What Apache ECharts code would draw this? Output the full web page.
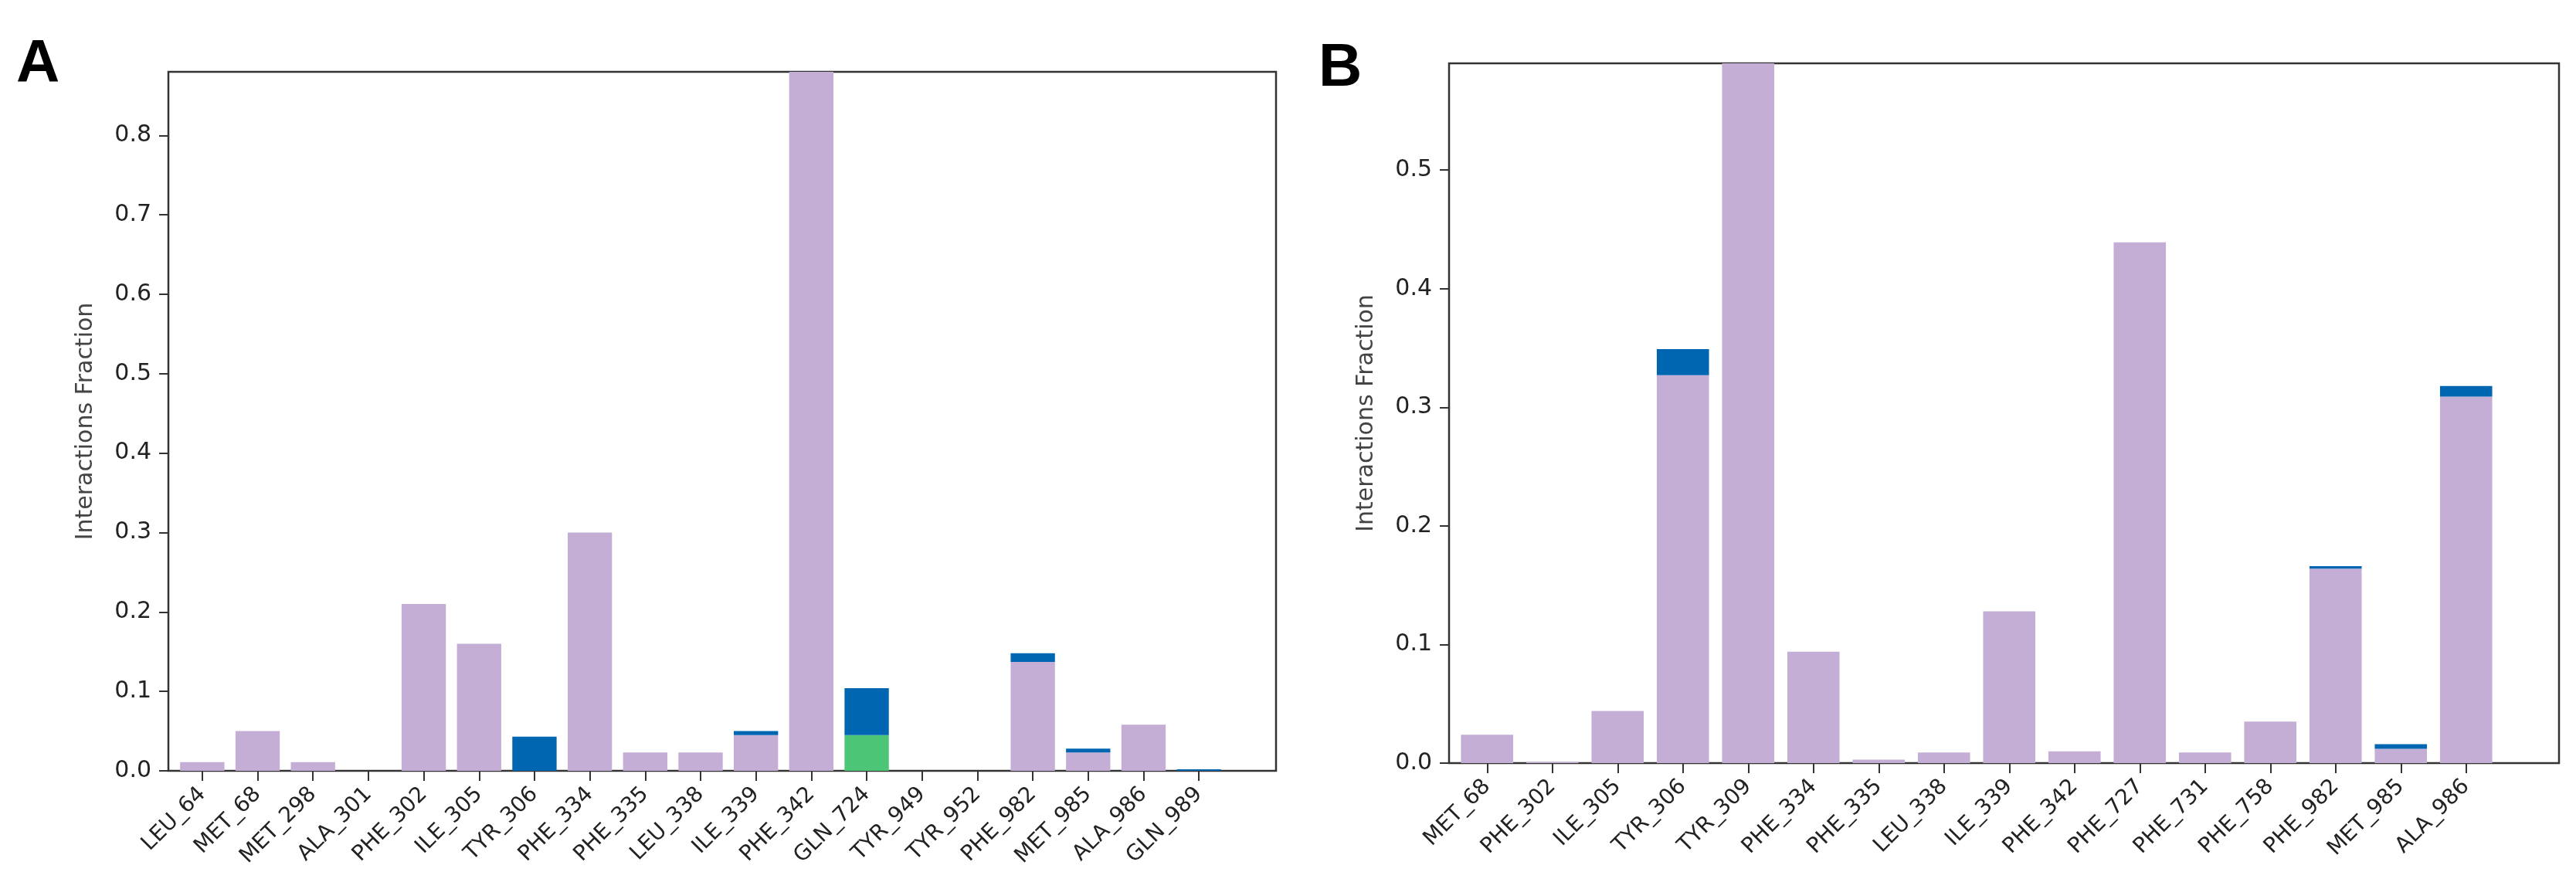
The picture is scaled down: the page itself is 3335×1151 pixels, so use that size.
<!DOCTYPE html>
<html>
<head>
<meta charset="utf-8">
<script src="https://cdn.jsdelivr.net/npm/echarts@6/dist/echarts.min.js"></script>
<style>
html,body{margin:0;padding:0;background:#fff;}
#chart{width:3335px;height:1151px;}
</style>
</head>
<body>
<div id="chart"></div>
<script>
// ---------- Panel A data ----------
const catsA = ['LEU_64','MET_68','MET_298','ALA_301','PHE_302','ILE_305','TYR_306','PHE_334','PHE_335','LEU_338','ILE_339','PHE_342','GLN_724','TYR_949','TYR_952','PHE_982','MET_985','ALA_986','GLN_989'];
const hbondA  = [0, 0, 0, 0, 0, 0, 0, 0, 0, 0, 0, 0, 0.045, 0, 0, 0, 0, 0, 0];
const hydroA  = [0.011, 0.050, 0.011, 0, 0.210, 0.160, 0, 0.300, 0.023, 0.023, 0.045, 0.880, 0, 0, 0, 0.137, 0.023, 0.058, 0];
const waterA  = [0, 0, 0, 0, 0, 0, 0.043, 0, 0, 0, 0.005, 0, 0.059, 0, 0, 0.011, 0.005, 0, 0.002];
const yMaxA = 0.88;
const yTicksA = [0, 0.1, 0.2, 0.3, 0.4, 0.5, 0.6, 0.7, 0.8];

// ---------- Panel B data ----------
const catsB = ['MET_68','PHE_302','ILE_305','TYR_306','TYR_309','PHE_334','PHE_335','LEU_338','ILE_339','PHE_342','PHE_727','PHE_731','PHE_758','PHE_982','MET_985','ALA_986'];
const hydroB  = [0.024, 0.001, 0.044, 0.327, 0.590, 0.094, 0.003, 0.009, 0.128, 0.010, 0.439, 0.009, 0.035, 0.164, 0.012, 0.309];
const waterB  = [0, 0, 0, 0.022, 0, 0, 0, 0, 0, 0, 0, 0, 0, 0.002, 0.004, 0.009];
const yMaxB = 0.59;
const yTicksB = [0, 0.1, 0.2, 0.3, 0.4, 0.5];

const yTitle = 'Interactions Fraction';

const C_HB = '#4CC676', C_HY = '#C4AED6', C_WB = '#0066B2';
const FONT = 'DejaVu Sans';

function frameY(gi, max, ticks) {
  return {
    gridIndex: gi, type: 'value', min: 0, max: max,
    name: yTitle, nameLocation: 'middle', nameGap: 92, nameRotate: 90,
    nameTextStyle: {fontFamily: FONT, fontSize: 30, color: '#444'},
    axisLine: {show: false},
    splitLine: {show: false},
    axisTick: {show: true, inside: false, length: 12, lineStyle: {color: '#333', width: 2}, customValues: ticks},
    axisLabel: {show: true, margin: 22, fontFamily: FONT, fontSize: 30, color: '#222',
      customValues: ticks, formatter: v => v.toFixed(1)}
  };
}
function dataX(gi, cats) {
  return {
    gridIndex: gi, type: 'category', data: cats,
    axisLine: {show: false},
    axisTick: {show: true, alignWithLabel: true, length: 13, lineStyle: {color: '#333', width: 2}},
    axisLabel: {rotate: 45, interval: 0, margin: 26, fontFamily: FONT, fontSize: 28, color: '#222'},
    splitLine: {show: false}
  };
}
function hiddenY(gi, max) {
  return {gridIndex: gi, type: 'value', min: 0, max: max, show: false, splitLine: {show: false}};
}
function bar(name, data, color, xi, yi, stack) {
  return {
    name: name, type: 'bar', data: data, stack: stack,
    xAxisIndex: xi, yAxisIndex: yi, barCategoryGap: '20%',
    itemStyle: {color: color}, emphasis: {disabled: true}, animation: false
  };
}

const chart = echarts.init(document.getElementById('chart'), null, {renderer: 'canvas'});
chart.setOption({
  animation: false,
  backgroundColor: '#fff',
  title: [
    {text: 'A', left: 16, top: 40, textStyle: {fontFamily: 'Liberation Sans', fontSize: 78, fontWeight: 'bold', color: '#000'}},
    {text: 'B', left: 1702, top: 45, textStyle: {fontFamily: 'Liberation Sans', fontSize: 78, fontWeight: 'bold', color: '#000'}}
  ],
  grid: [
    {left: 218, top: 93, width: 1434, height: 905, show: true, borderColor: '#333', borderWidth: 2.5, backgroundColor: 'transparent'},
    {left: 226, top: 93, width: 1362, height: 905},
    {left: 1876, top: 82, width: 1437, height: 906, show: true, borderColor: '#333', borderWidth: 2.5, backgroundColor: 'transparent'},
    {left: 1883, top: 82, width: 1352, height: 906}
  ],
  xAxis: [
    {gridIndex: 0, type: 'value', min: 0, max: 1, show: false, splitLine: {show: false}},
    dataX(1, catsA),
    {gridIndex: 2, type: 'value', min: 0, max: 1, show: false, splitLine: {show: false}},
    dataX(3, catsB)
  ],
  yAxis: [
    frameY(0, yMaxA, yTicksA),
    hiddenY(1, yMaxA),
    frameY(2, yMaxB, yTicksB),
    hiddenY(3, yMaxB)
  ],
  series: [
    bar('H-bonds A', hbondA, C_HB, 1, 1, 'A'),
    bar('Hydrophobic A', hydroA, C_HY, 1, 1, 'A'),
    bar('Water bridges A', waterA, C_WB, 1, 1, 'A'),
    bar('Hydrophobic B', hydroB, C_HY, 3, 3, 'B'),
    bar('Water bridges B', waterB, C_WB, 3, 3, 'B')
  ]
});
</script>
</body>
</html>
